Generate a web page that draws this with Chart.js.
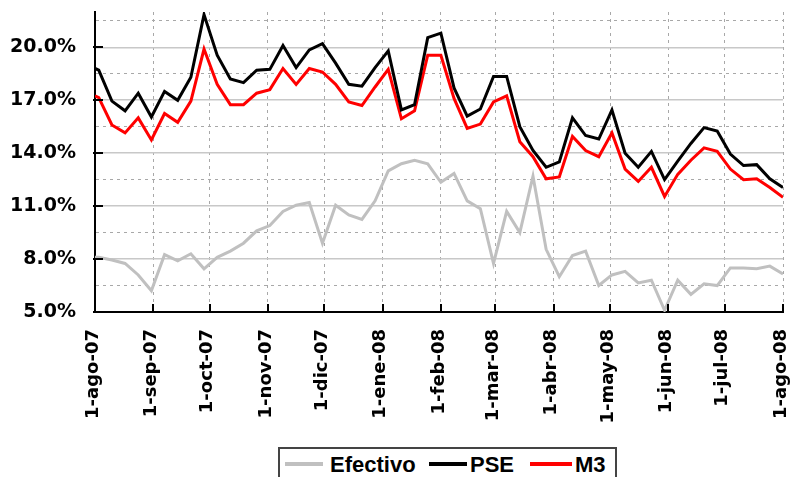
<!DOCTYPE html>
<html>
<head>
<meta charset="utf-8">
<script src="https://cdn.jsdelivr.net/npm/chart.js@4/dist/chart.umd.min.js"></script>
<style>
html,body{margin:0;padding:0;background:#fff;}
#wrap{position:relative;width:793px;height:477px;overflow:hidden;background:#fff;}
#c{position:absolute;left:0;top:0;}
#legendBox{position:absolute;left:278px;top:447px;width:339px;height:36px;border:2px solid #444;box-sizing:border-box;background:#fff;}
.lg-line{position:absolute;height:4px;top:462px;}
.lg-text{position:absolute;top:454px;font-family:"Liberation Sans",Arial,sans-serif;font-weight:bold;font-size:22px;line-height:22px;color:#000;white-space:nowrap;}
</style>
</head>
<body>
<div id="wrap">
  <canvas id="c" width="793" height="477"></canvas>
  <div id="legendBox"></div>
  <div class="lg-line" style="left:285px;width:38px;background:#c0c0c0"></div>
  <div class="lg-text" style="left:330px">Efectivo</div>
  <div class="lg-line" style="left:429px;width:38px;background:#000"></div>
  <div class="lg-text" style="left:470px">PSE</div>
  <div class="lg-line" style="left:530px;width:42px;background:#ff0000"></div>
  <div class="lg-text" style="left:575px">M3</div>
</div>
<script>
// ---- data ----
const dates = [
 "2007-08-01","2007-08-03","2007-08-10","2007-08-17","2007-08-24","2007-08-31",
 "2007-09-07","2007-09-14","2007-09-21","2007-09-28",
 "2007-10-05","2007-10-12","2007-10-19","2007-10-26",
 "2007-11-02","2007-11-09","2007-11-16","2007-11-23","2007-11-30",
 "2007-12-07","2007-12-14","2007-12-21","2007-12-28",
 "2008-01-04","2008-01-11","2008-01-18","2008-01-25",
 "2008-02-01","2008-02-08","2008-02-15","2008-02-22","2008-02-29",
 "2008-03-07","2008-03-14","2008-03-21","2008-03-28",
 "2008-04-04","2008-04-11","2008-04-18","2008-04-25",
 "2008-05-02","2008-05-09","2008-05-16","2008-05-23","2008-05-30",
 "2008-06-06","2008-06-13","2008-06-20","2008-06-27",
 "2008-07-04","2008-07-11","2008-07-18","2008-07-25",
 "2008-08-01"
];
const efectivo = [
 8.1, 8.1, 7.95, 7.75, 7.1, 6.2,
 8.25, 7.9, 8.3, 7.45,
 8.1, 8.45, 8.9, 9.6,
 9.9, 10.7, 11.05, 11.2, 8.9,
 11.05, 10.5, 10.25, 11.3,
 13.0, 13.4, 13.6, 13.4,
 12.35, 12.85, 11.3, 10.85, 7.75,
 10.7, 9.5, 12.7, 8.55,
 7.0, 8.2, 8.45, 6.5,
 7.1, 7.3, 6.65, 6.8, 5.1,
 6.8, 6.0, 6.6, 6.5,
 7.5, 7.5, 7.45, 7.6,
 7.15
];
const pse = [
 18.8, 18.7, 16.95, 16.4, 17.4, 16.05,
 17.5, 17.0, 18.3, 21.85,
 19.55, 18.2, 18.0, 18.7,
 18.75, 20.1, 18.85, 19.85, 20.2,
 19.1, 17.9, 17.8, 18.85,
 19.8, 16.45, 16.75, 20.55,
 20.8, 17.7, 16.1, 16.5, 18.35,
 18.35, 15.5, 14.15, 13.2,
 13.5, 16.0, 15.0, 14.8,
 16.45, 14.0, 13.2, 14.1, 12.5,
 13.55, 14.55, 15.45, 15.25,
 13.95, 13.3, 13.35, 12.55,
 12.05
];
const m3 = [
 17.25, 17.15, 15.6, 15.15, 16.0, 14.75,
 16.25, 15.75, 16.95, 19.9,
 17.9, 16.75, 16.75, 17.4,
 17.6, 18.8, 17.9, 18.8, 18.6,
 17.9, 16.9, 16.7, 17.75,
 18.75, 15.95, 16.4, 19.55,
 19.55, 17.1, 15.4, 15.65, 16.9,
 17.25, 14.65, 13.8, 12.55,
 12.65, 14.95, 14.15, 13.8,
 15.15, 13.1, 12.4, 13.2, 11.55,
 12.8, 13.6, 14.3, 14.1,
 13.1, 12.5, 12.55, 12.05,
 11.5
];
const xTickDates = ["2007-08-01","2007-09-01","2007-10-01","2007-11-01","2007-12-01","2008-01-01",
 "2008-02-01","2008-03-01","2008-04-01","2008-05-01","2008-06-01","2008-07-01","2008-08-01"];
const xTickLabels = ["1-ago-07","1-sep-07","1-oct-07","1-nov-07","1-dic-07","1-ene-08",
 "1-feb-08","1-mar-08","1-abr-08","1-may-08","1-jun-08","1-jul-08","1-ago-08"];
const yTickValues = [5, 6.5, 8, 9.5, 11, 12.5, 14, 15.5, 17, 18.5, 20, 21.5];
const yTickLabels = ["5.0%","","8.0%","","11.0%","","14.0%","","17.0%","","20.0%",""];
const yMin = 5, yMax = 22;

// ---- helpers ----
const origin = Date.UTC(2007, 7, 1);
function dayOf(s){ const p = s.split('-').map(Number); return (Date.UTC(p[0], p[1]-1, p[2]) - origin) / 86400000; }
const xMin = dayOf(xTickDates[0]), xMax = dayOf(xTickDates[xTickDates.length-1]);
function series(vals){ return vals.map((v,i)=>({x: dayOf(dates[i]), y: v})); }
function isMajor(v){ return yTickLabels[yTickValues.indexOf(v)] !== ""; }
function noPad(s){ s.paddingTop = 0; s.paddingBottom = 0; s.paddingLeft = 0; s.paddingRight = 0; }

const innerTicks = {
  id: 'innerTicks',
  afterDraw(chart){
    const {ctx, chartArea:a, scales:{x, y}} = chart;
    ctx.save();
    ctx.strokeStyle = '#000';
    ctx.lineWidth = 2;
    ctx.beginPath();
    x.ticks.forEach(t => {
      const px = Math.round(x.getPixelForValue(t.value));
      ctx.moveTo(px, a.bottom); ctx.lineTo(px, a.bottom - 8);
    });
    y.ticks.forEach(t => {
      if (!isMajor(t.value)) return;
      const py = Math.round(y.getPixelForValue(t.value));
      ctx.moveTo(a.left - 2, py); ctx.lineTo(a.left + 8, py);
    });
    ctx.stroke();
    ctx.restore();
  }
};

Chart.defaults.color = '#000';
new Chart(document.getElementById('c'), {
  type: 'line',
  data: {
    datasets: [
      {label: 'Efectivo', data: series(efectivo), borderColor: '#c0c0c0', borderWidth: 3, pointRadius: 0, tension: 0, fill: false},
      {label: 'PSE', data: series(pse), borderColor: '#000000', borderWidth: 3, pointRadius: 0, tension: 0, fill: false},
      {label: 'M3', data: series(m3), borderColor: '#ff0000', borderWidth: 3, pointRadius: 0, tension: 0, fill: false}
    ]
  },
  options: {
    responsive: false,
    animation: false,
    devicePixelRatio: 1,
    layout: {padding: {left: 0, right: 10, top: 12, bottom: 0}},
    plugins: {legend: {display: false}, tooltip: {enabled: false}},
    scales: {
      x: {
        type: 'linear',
        min: xMin, max: xMax,
        afterBuildTicks: s => { s.ticks = xTickDates.map(d => ({value: dayOf(d)})); },
        afterFit: s => { s.height = 165; noPad(s); },
        ticks: {
          autoSkip: false, minRotation: 90, maxRotation: 90, padding: 17, labelOffset: -2,
          font: {family: '"DejaVu Sans", sans-serif', weight: 'bold', size: 18},
          callback: (v, i) => xTickLabels[i]
        },
        grid: {color: '#a8a8a8', lineWidth: 1, drawTicks: false},
        border: {display: true, color: '#000', width: 2, dash: c => c.type === 'tick' ? [3,4] : []}
      },
      y: {
        type: 'linear',
        min: yMin, max: yMax,
        afterBuildTicks: s => { s.ticks = yTickValues.map(v => ({value: v})); },
        afterFit: s => { s.width = 95; noPad(s); },
        ticks: {
          autoSkip: false, padding: 19,
          font: {family: '"DejaVu Sans", sans-serif', weight: 'bold', size: 19},
          callback: (v) => yTickLabels[yTickValues.indexOf(v)]
        },
        grid: {
          drawTicks: false,
          color: c => (c.tick && !isMajor(c.tick.value)) ? '#a8a8a8' : '#c8c8c8',
          lineWidth: c => (c.tick && !isMajor(c.tick.value)) ? 1 : 1.5
        },
        border: {display: true, color: '#000', width: 2, dash: c => (c.type === 'tick' && c.tick && !isMajor(c.tick.value)) ? [3,4] : []}
      }
    }
  },
  plugins: [innerTicks]
});
</script>
</body>
</html>
